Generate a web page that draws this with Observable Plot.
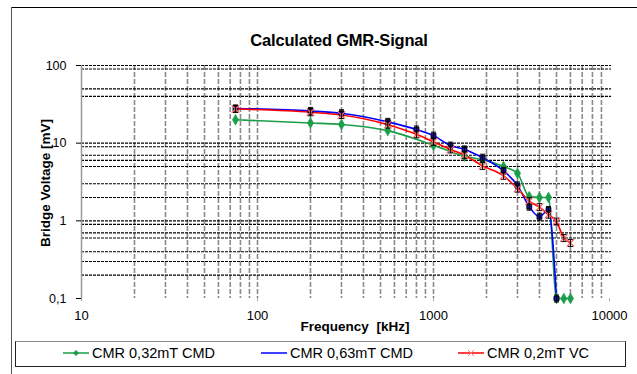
<!DOCTYPE html>
<html>
<head>
<meta charset="utf-8">
<script src="https://cdn.jsdelivr.net/npm/d3@7"></script>
<script src="https://cdn.jsdelivr.net/npm/@observablehq/plot@0.6"></script>
<style>
  html, body { margin: 0; padding: 0; background: #fff; }
  #wrap { position: relative; width: 637px; height: 374px; overflow: hidden; background: #fff; font-family: "Liberation Sans", Arial, sans-serif; }
  .abs { position: absolute; }
  #title { left: 339px; top: 40px; transform: translate(-50%, -50%); text-align: center; font-weight: bold; font-size: 16.5px; color: #000; white-space: nowrap; letter-spacing: -0.2px; }
  #ylab { left: 45px; top: 183px; transform: translate(-50%, -50%) rotate(-90deg); font-weight: bold; font-size: 13.5px; white-space: nowrap; }
  #xlab { left: 355px; top: 326px; transform: translate(-50%, -50%); font-weight: bold; font-size: 13.5px; white-space: pre; }
  #legend { left: 15px; top: 341px; width: 611px; height: 26px; border: 1px solid #222; border-top: 1px solid #888; box-sizing: border-box; }
  .item { position: absolute; top: 3px; font-size: 14.5px; display: flex; align-items: center; white-space: nowrap; }
  .item svg { margin-right: 2px; }
</style>
</head>
<body>
<div id="wrap">
  <div class="abs" style="left:11px;top:7px;width:626px;height:1px;background:#000"></div>
  <div class="abs" style="left:11px;top:7px;width:1px;height:367px;background:#555"></div>
  <div id="chart" class="abs" style="left:0;top:0"></div>
  <div id="title" class="abs">Calculated GMR-Signal</div>
  <div id="ylab" class="abs">Bridge Voltage [mV]</div>
  <div id="xlab" class="abs">Frequency  [kHz]</div>
  <div id="legend" class="abs"></div>
</div>
<script>
// ---- data ----
const seriesNames = ["CMR 0,32mT CMD", "CMR 0,63mT CMD", "CMR 0,2mT VC"];
const seriesColors = ["#1a9e4a", "#0000ff", "#ff0000"];

const greenFreq = [75, 200, 300, 550, 1000, 1500, 1900, 2500, 3000, 3500, 4000, 4500, 5000, 5500, 6000];
const greenVal  = [20, 18.2, 17.4, 14.5, 9.4, 6.8, 6.1, 5.0, 4.1, 2.05, 2.0, 2.0, 0.1, 0.1, 0.1];

const blueFreq = [75, 200, 300, 550, 800, 1000, 1250, 1500, 1900, 2500, 3000, 3500, 4000, 4500, 5000];
const blueVal  = [28, 26, 24.3, 18.8, 15, 12.5, 9.3, 8.3, 6.5, 4.4, 2.86, 1.52, 1.13, 1.38, 0.1];

const redFreq = [75, 200, 300, 550, 800, 1000, 1250, 1500, 1900, 2500, 3000, 3500, 4000, 4500, 5000, 5500, 6000];
const redVal  = [27.5, 25, 23, 17.3, 13, 10.4, 8.3, 7.0, 5.1, 3.8, 2.6, 1.8, 1.5, 1.2, 0.98, 0.6, 0.52];

const xTicks = [10, 100, 1000, 10000];
const xTickLabels = ["10", "100", "1000", "10000"];
const yTicks = [0.1, 1, 10, 100];
const yTickLabels = ["0,1", "1", "10", "100"];

const xMinorGrid = [20, 30, 40, 50, 60, 70, 80, 90, 100, 200, 300, 400, 500, 600, 700, 800, 900, 1000,
                    2000, 3000, 4000, 5000, 6000, 7000, 8000, 9000];
const yGrid = [100, 90, 50, 40, 10, 9, 7, 6, 5, 3, 2, 1, 0.9, 0.7, 0.6, 0.4, 0.3, 0.2];

// ---- build ----
const toRows = (f, v) => f.map((x, i) => ({f: x, v: v[i]}));
const green = toRows(greenFreq, greenVal);
const blue = toRows(blueFreq, blueVal);
const red = toRows(redFreq, redVal);

const errBar = {
  draw(ctx) {
    ctx.moveTo(-2.5, -3.5); ctx.lineTo(2.5, -3.5);
    ctx.moveTo(0, -3.5); ctx.lineTo(0, 3.5);
    ctx.moveTo(-2.5, 3.5); ctx.lineTo(2.5, 3.5);
  }
};

const chart = Plot.plot({
  width: 637,
  height: 340,
  marginLeft: 81,
  marginRight: 28,
  marginTop: 65,
  marginBottom: 42,
  style: {fontFamily: "'Liberation Sans', Arial, sans-serif", fontSize: "12.5px", background: "transparent", color: "#000"},
  x: {type: "log", domain: [10, 10000]},
  y: {type: "log", domain: [0.1, 100]},
  marks: [
    Plot.ruleX(xMinorGrid, {stroke: "#8a8a8a", strokeWidth: 1.6, strokeDasharray: "5,2"}),
    Plot.ruleY(yGrid, {x1: 10, x2: 10000, stroke: "#000", strokeWidth: 1.1, strokeDasharray: "3,1", insetRight: -2}),
    Plot.ruleX([10], {stroke: "#999", strokeWidth: 1.5}),
    Plot.axisY({ticks: yTicks, tickFormat: d => yTickLabels[yTicks.indexOf(d)], tickSize: 5, tickPadding: 10, label: null, fontSize: 12.5}),
    Plot.axisX({ticks: xTicks, tickFormat: d => xTickLabels[xTicks.indexOf(d)], tickSize: 3, tickPadding: 9, label: null, stroke: "#aaa", fontSize: 13}),
    Plot.line(green, {x: "f", y: "v", stroke: seriesColors[0], strokeWidth: 1.6, curve: "monotone-x"}),
    Plot.line(blue, {x: "f", y: "v", stroke: seriesColors[1], strokeWidth: 1.6, curve: "monotone-x"}),
    Plot.line(red, {x: "f", y: "v", stroke: seriesColors[2], strokeWidth: 1.6, curve: "monotone-x"}),
    Plot.dot(green, {x: "f", y: "v", symbol: "diamond", r: 3.3, fill: seriesColors[0], stroke: seriesColors[0], strokeWidth: 0.5}),
    Plot.dot(blue, {x: "f", y: "v", symbol: "square", r: 2.8, fill: "#1010a0", stroke: "#000", strokeWidth: 0.8}),
    Plot.dot(blue, {x: "f", y: "v", symbol: errBar, r: 3, fill: "none", stroke: "#000", strokeWidth: 1}),
    Plot.dot(red, {x: "f", y: "v", symbol: "times", r: 3.5, stroke: "#ff6060", strokeWidth: 1.2}),
    Plot.dot(red, {x: "f", y: "v", symbol: errBar, r: 3, fill: "none", stroke: "#000", strokeWidth: 1})
  ]
});
document.getElementById("chart").appendChild(chart);

// legend
const legend = document.getElementById("legend");
const legendPos = [46, 244, 441];
const legendMarker = ["diamond", "none", "times"];
seriesNames.forEach((name, i) => {
  const item = document.createElement("div");
  item.className = "item";
  item.style.left = legendPos[i] + "px";
  const ns = "http://www.w3.org/2000/svg";
  const svg = document.createElementNS(ns, "svg");
  svg.setAttribute("width", 28); svg.setAttribute("height", 14);
  const ln = document.createElementNS(ns, "line");
  ln.setAttribute("x1", 1); ln.setAttribute("x2", 27); ln.setAttribute("y1", 7); ln.setAttribute("y2", 7);
  ln.setAttribute("stroke", seriesColors[i]); ln.setAttribute("stroke-width", 1.5);
  svg.appendChild(ln);
  if (legendMarker[i] === "diamond") {
    const p = document.createElementNS(ns, "path");
    p.setAttribute("d", "M14,4 L17,7 L14,10 L11,7 Z"); p.setAttribute("fill", seriesColors[i]);
    svg.appendChild(p);
  } else if (legendMarker[i] === "times") {
    const p = document.createElementNS(ns, "path");
    p.setAttribute("d", "M11,4 L17,10 M17,4 L11,10"); p.setAttribute("stroke", "#ff7070"); p.setAttribute("stroke-width", 1);
    svg.appendChild(p);
  }
  item.appendChild(svg);
  const t = document.createElement("span");
  t.textContent = name;
  item.appendChild(t);
  legend.appendChild(item);
});
</script>
</body>
</html>
